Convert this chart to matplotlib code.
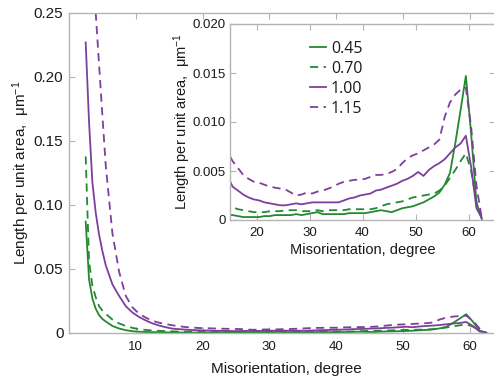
import numpy as np
import matplotlib
matplotlib.use("Agg")
import matplotlib.pyplot as plt

# Colors
green = "#23892f"
purple = "#7c3f9c"
spine_gray = "#b4b4b4"
text_color = "#1a1a1a"

plt.rcParams["font.family"] = ["Liberation Sans", "DejaVu Sans"]
plt.rcParams["mathtext.fontset"] = "custom"
plt.rcParams["mathtext.rm"] = "Liberation Sans"
plt.rcParams["mathtext.it"] = "Liberation Sans:italic"

# Misorientation bin centres, degree (finer steps at low angle)
angle = [2.5, 3.0, 3.5, 4.0, 4.5, 5.0] + list(np.arange(5.5, 63.0, 1.0))

# Length per unit area, um^-1
r045 = [0.087, 0.042, 0.027, 0.019, 0.014, 0.011,
        0.009, 0.0055, 0.0035, 0.0022, 0.0014, 0.0010, 0.0008,
        0.0007, 0.0006, 0.0005,
        0.0005, 0.0004, 0.0003, 0.0003, 0.0003, 0.0003, 0.0004, 0.0004, 0.0005, 0.0005,
        0.0005, 0.0005, 0.0006, 0.0005, 0.0006, 0.0007, 0.0008, 0.0006, 0.0006, 0.0006,
        0.0006, 0.0006, 0.0007, 0.0007, 0.0007, 0.0007, 0.0008, 0.0009, 0.0010, 0.0009,
        0.0008, 0.0010, 0.0012, 0.0013, 0.0014, 0.0016, 0.0018, 0.0021, 0.0024, 0.0028,
        0.0036, 0.0048, 0.0078, 0.0112, 0.0147, 0.0088, 0.0018, 0.0001]
r070 = [0.138, 0.056, 0.037, 0.028, 0.021, 0.0175,
        0.015, 0.0105, 0.0075, 0.0055, 0.0040, 0.0030, 0.0024,
        0.0020, 0.0017, 0.0015,
        0.0013, 0.0011, 0.0010, 0.0009, 0.0008, 0.0008, 0.0008, 0.0009, 0.0009, 0.0009,
        0.0010, 0.0010, 0.0010, 0.0009, 0.0009, 0.0009, 0.0010, 0.0009, 0.0010, 0.0010,
        0.0010, 0.0010, 0.0011, 0.0011, 0.0011, 0.0011, 0.0011, 0.0012, 0.0014, 0.0016,
        0.0017, 0.0018, 0.0019, 0.0021, 0.0023, 0.0024, 0.0025, 0.0026, 0.0027, 0.0030,
        0.0035, 0.0043, 0.0051, 0.0060, 0.0068, 0.0050, 0.0018, 0.0002]
r100 = [0.227, 0.165, 0.118, 0.094, 0.077, 0.064,
        0.053, 0.038, 0.029, 0.021, 0.016, 0.0125, 0.0098,
        0.0075, 0.0058, 0.0045,
        0.0034, 0.0030, 0.0026, 0.0023, 0.0021, 0.0020, 0.0018, 0.0017, 0.0016, 0.0015,
        0.0015, 0.0016, 0.0017, 0.0016, 0.0017, 0.0018, 0.0018, 0.0018, 0.0018, 0.0018,
        0.0018, 0.0020, 0.0022, 0.0023, 0.0025, 0.0026, 0.0027, 0.0030, 0.0031, 0.0033,
        0.0035, 0.0037, 0.0040, 0.0042, 0.0045, 0.0049, 0.0045, 0.0051, 0.0055, 0.0058,
        0.0062, 0.0068, 0.0074, 0.0078, 0.0086, 0.0054, 0.0012, 0.0002]
r115 = [0.37, 0.33, 0.29, 0.25, 0.21, 0.17,
        0.131, 0.078, 0.048, 0.029, 0.020, 0.015, 0.012,
        0.0095, 0.0080, 0.0070,
        0.0060, 0.0053, 0.0046, 0.0042, 0.0039, 0.0038, 0.0036, 0.0034, 0.0033, 0.0032,
        0.0031, 0.0028, 0.0025, 0.0026, 0.0028, 0.0027, 0.0029, 0.0030, 0.0032, 0.0034,
        0.0037, 0.0039, 0.0040, 0.0041, 0.0041, 0.0042, 0.0044, 0.0046, 0.0046, 0.0047,
        0.0049, 0.0052, 0.0058, 0.0063, 0.0066, 0.0068, 0.0071, 0.0074, 0.0077, 0.0082,
        0.0105, 0.0120, 0.0128, 0.0133, 0.0135, 0.0095, 0.0035, 0.0002]

series = [
    ("0.45", r045, green, "-"),
    ("0.70", r070, green, (0, (4.5, 3.0))),
    ("1.00", r100, purple, "-"),
    ("1.15", r115, purple, (0, (4.5, 3.0))),
]

main_xticks = [10, 20, 30, 40, 50, 60]
main_yticks = [0, 0.05, 0.10, 0.15, 0.20, 0.25]
main_ylabels = ["0", "0.05", "0.10", "0.15", "0.20", "0.25"]
inset_xticks = [20, 30, 40, 50, 60]
inset_yticks = [0, 0.005, 0.010, 0.015, 0.020]
inset_ylabels = ["0", "0.005", "0.010", "0.015", "0.020"]

ylabel_text = "Length per unit area,  \u03bcm$^{-1}$"
xlabel_text = "Misorientation, degree"


def style_axes(ax):
    for s in ax.spines.values():
        s.set_color(spine_gray)
        s.set_linewidth(1.0)
    ax.tick_params(direction="in", top=True, right=True, color=spine_gray,
                   length=4, labelcolor=text_color)


fig = plt.figure(figsize=(4.94, 3.80), dpi=100, facecolor="white")

# main axes
ax = fig.add_axes([69 / 494, 47 / 380, 434 / 494, 320 / 380])
for name, vals, col, ls in series:
    ax.plot(angle, vals, color=col, linestyle=ls, linewidth=1.3)
ax.set_xlim(0, 65)
ax.set_ylim(0, 0.25)
ax.set_xticks(main_xticks)
ax.set_yticks(main_yticks)
ax.set_yticklabels(main_ylabels)
style_axes(ax)
ax.tick_params(axis="x", labelsize=9.5, pad=6)
ax.tick_params(axis="y", labelsize=11, pad=4)
ax.set_xlabel(xlabel_text, fontsize=11, color=text_color, labelpad=6)
ax.set_ylabel(ylabel_text, fontsize=11, color=text_color, labelpad=1)

# inset axes
ins = fig.add_axes([230 / 494, 160 / 380, 265 / 494, 196 / 380])
ins.set_facecolor("white")
for name, vals, col, ls in series:
    ins.plot(angle, vals, color=col, linestyle=ls, linewidth=1.3, label=name)
ins.set_xlim(15, 65)
ins.set_ylim(0, 0.020)
ins.set_xticks(inset_xticks)
ins.set_yticks(inset_yticks)
ins.set_yticklabels(inset_ylabels)
style_axes(ins)
ins.tick_params(axis="x", labelsize=9.5, pad=5)
ins.tick_params(axis="y", labelsize=9.5, pad=3)
ins.set_xlabel(xlabel_text, fontsize=10.5, color=text_color, labelpad=3)
ins.set_ylabel(ylabel_text, fontsize=10.5, color=text_color, labelpad=0)

leg = ins.legend(loc="upper left", bbox_to_anchor=(0.26, 0.97), frameon=False,
                 handlelength=1.0, handletextpad=0.3, labelspacing=0.25,
                 borderpad=0.2, prop={"family": "Open Sans", "size": 11.5})
for t in leg.get_texts():
    t.set_color(text_color)

fig.savefig("out.png", dpi=100, facecolor="white")
